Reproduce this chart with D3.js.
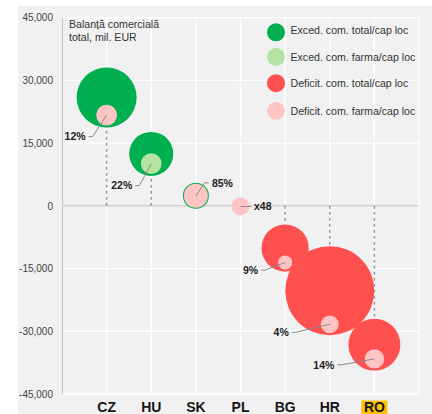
<!DOCTYPE html>
<html>
<head>
<meta charset="utf-8">
<script src="https://cdn.jsdelivr.net/npm/d3@7"></script>
<style>
  html, body { margin: 0; padding: 0; background: #ffffff; }
  svg { display: block; font-family: "Liberation Sans", Arial, Helvetica, sans-serif; }
</style>
</head>
<body>
<svg id="chart" width="432" height="414"></svg>
<script>
// ---------- DATA ----------
const countries = ["CZ", "HU", "SK", "PL", "BG", "HR", "RO"];
// total trade balance, mil. EUR
const totalBalance = [25900, 12400, 2400, -165, -10100, -20300, -33200];
// trade balance per capita, EUR/cap (bubble size)
const perCapita = [2390, 1290, 450, 4.5, 1480, 5260, 1790];
// pharma balance as share of total balance (%), 4800 = x48
const pharmaShare = [12, 22, 85, 4800, 9, 4, 14];
// pharma balance sign: true = surplus
const pharmaSurplus = [false, true, false, false, false, false, false];
const yTicks = [-45000, -30000, -15000, 0, 15000, 30000, 45000];
const legendLabels = [
  "Exced. com. total/cap loc",
  "Exced. com. farma/cap loc",
  "Deficit. com. total/cap loc",
  "Deficit. com. farma/cap loc"
];
const titleLines = ["Balanță comercială", "total, mil. EUR"];
const highlighted = "RO";

// ---------- LAYOUT / STYLE ----------
const colors = {
  totalSurplus: "#00b050",
  pharmaSurplus: "#b5e4a2",
  totalDeficit: "#ff5050",
  pharmaDeficit: "#ffc4c4"
};
const legendColors = [colors.totalSurplus, colors.pharmaSurplus, colors.totalDeficit, colors.pharmaDeficit];
// label offsets relative to the pharma circle centre (dx, dy, side)
const labelOffsets = [
  [-21, 21.5, "left"], [-19, 22, "left"], [16, -13, "right"], [13.5, 0, "right"],
  [-27, 7.5, "left"], [-41, 8, "left"], [-40, 6, "left"]
];

const svg = d3.select("#chart");
const W = 432, H = 414;
const plot = { left: 62, right: 419, top: 17.6, bottom: 394 };

// panel background
svg.append("rect").attr("x", 18).attr("y", 6).attr("width", W - 18).attr("height", H - 6)
  .attr("fill", "#f1f1f1");

const x = d3.scalePoint().domain(countries).range([plot.left, plot.right]).padding(1);
const y = d3.scaleLinear().domain([-45000, 45000]).range([plot.bottom, plot.top]);
const r = d3.scaleSqrt().domain([0, 2390]).range([0, 30]);

// grid
const grid = svg.append("g");
grid.selectAll("line.h").data(yTicks).join("line")
  .attr("x1", plot.left).attr("x2", plot.right)
  .attr("y1", d => y(d)).attr("y2", d => y(d))
  .attr("stroke", "#ffffff").attr("stroke-width", 1.3);
grid.selectAll("line.v").data(countries.map(c => x(c)).concat([plot.right])).join("line")
  .attr("x1", d => d).attr("x2", d => d)
  .attr("y1", plot.top).attr("y2", plot.bottom)
  .attr("stroke", "#ffffff").attr("stroke-width", 1.3);

// y axis
const locale = d3.formatLocale({ decimal: ".", thousands: ",", grouping: [3], currency: ["", ""], minus: "-" });
const fmt = locale.format(",");
const yAxis = svg.append("g").attr("transform", `translate(${plot.left},0)`)
  .call(d3.axisLeft(y).tickValues(yTicks).tickFormat(fmt).tickSize(0).tickPadding(9));
yAxis.select(".domain").attr("stroke", "#c4c4c4").attr("stroke-width", 1);
yAxis.selectAll("text").attr("font-size", 10).attr("fill", "#444")
  .attr("font-family", "'Liberation Sans', Arial, sans-serif");

// zero line
svg.append("line").attr("x1", plot.left).attr("x2", plot.right)
  .attr("y1", y(0)).attr("y2", y(0)).attr("stroke", "#cfcfcf").attr("stroke-width", 1.6);

// derived rows
const rows = countries.map((c, i) => {
  const cx = x(c), cy = y(totalBalance[i]);
  const ro = r(perCapita[i]);
  const ri = r(perCapita[i] * pharmaShare[i] / 100);
  const cyi = cy + Math.max(0, ro - ri - 2);
  return {
    c, i, cx, cy, ro, ri, cyi,
    pos: totalBalance[i] >= 0,
    label: pharmaShare[i] >= 100 ? "x" + (pharmaShare[i] / 100) : pharmaShare[i] + "%"
  };
});

// dashed connectors from zero line to bubble
const y0 = y(0);
svg.append("g").selectAll("line").data(rows.filter(d => d.pos ? (d.cy + d.ro < y0 - 1) : (d.cy - d.ro > y0 + 1)))
  .join("line")
  .attr("x1", d => d.cx).attr("x2", d => d.cx)
  .attr("y1", y0)
  .attr("y2", d => d.pos ? d.cy + d.ro : d.cy - d.ro)
  .attr("stroke", "#9a9a9a").attr("stroke-width", 1.5).attr("stroke-dasharray", "3,3");

// total bubbles
svg.append("g").selectAll("circle").data(rows).join("circle")
  .attr("cx", d => d.cx).attr("cy", d => d.cy).attr("r", d => d.ro)
  .attr("fill", d => d.pos ? colors.totalSurplus : colors.totalDeficit);

// pharma bubbles
svg.append("g").selectAll("circle").data(rows).join("circle")
  .attr("cx", d => d.cx).attr("cy", d => d.cyi).attr("r", d => d.ri)
  .attr("fill", d => pharmaSurplus[d.i] ? colors.pharmaSurplus : colors.pharmaDeficit);

// labels + leaders
const lab = svg.append("g");
rows.forEach(d => {
  const [dx, dy, side] = labelOffsets[d.i];
  const tx = d.cx + dx, ty = d.cyi + dy;
  let path;
  if (side === "left") {
    path = `M${tx + 3},${ty} L${tx + 7},${ty} L${d.cx},${d.cyi}`;
  } else {
    path = `M${d.cx},${d.cyi} L${tx - 7},${ty} L${tx - 3},${ty}`;
  }
  lab.append("path").attr("d", path).attr("fill", "none")
    .attr("stroke", "#8a8a8a").attr("stroke-width", 1);
  lab.append("text").attr("x", tx).attr("y", ty).attr("dy", "0.36em")
    .attr("text-anchor", side === "left" ? "end" : "start")
    .attr("font-size", 10.5).attr("font-weight", "bold").attr("fill", "#222")
    .text(d.label);
});

// title
const title = svg.append("text").attr("x", 69).attr("y", 28)
  .attr("font-size", 10.6).attr("fill", "#333");
titleLines.forEach((t, i) => title.append("tspan").attr("x", 69).attr("dy", i ? 13.2 : 0).text(t));

// legend
const legendY = [32.3, 56.8, 83.2, 110.8];
const lg = svg.append("g");
legendLabels.forEach((t, i) => {
  lg.append("circle").attr("cx", 276).attr("cy", legendY[i]).attr("r", 9).attr("fill", legendColors[i]);
  lg.append("text").attr("x", 290.5).attr("y", legendY[i] - (i === 0 ? 2.5 : 0)).attr("dy", "0.35em")
    .attr("font-size", 10.6).attr("fill", "#333").text(t);
});

// x labels
const xl = svg.append("g");
countries.forEach(c => {
  const t = xl.append("text").attr("x", x(c)).attr("y", 412.3)
    .attr("text-anchor", "middle").attr("font-size", 14).attr("font-weight", "bold")
    .attr("fill", "#151515").text(c);
  if (c === highlighted) {
    const bb = t.node().getBBox();
    xl.insert("rect", "text").attr("x", bb.x - 2.5).attr("y", 400.5)
      .attr("width", bb.width + 5).attr("height", H - 400.5).attr("fill", "#ffc000");
  }
});
</script>
</body>
</html>
